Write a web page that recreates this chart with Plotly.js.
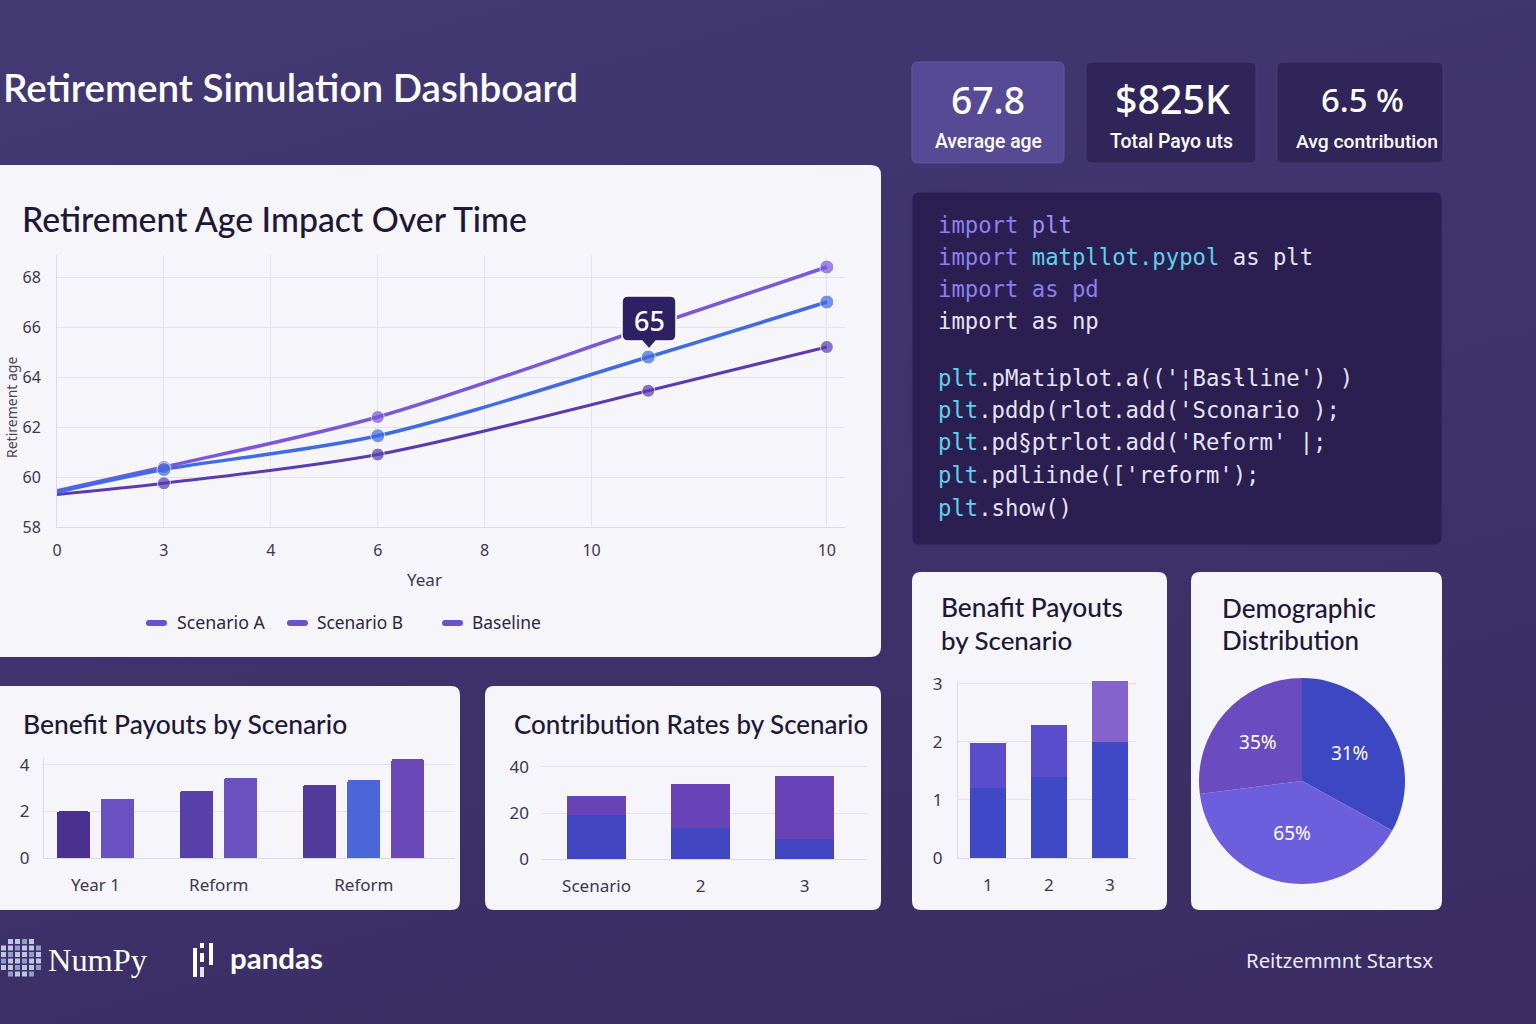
<!DOCTYPE html>
<html><head><meta charset="utf-8">
<script src="https://cdn.plot.ly/plotly-3.0.1.min.js"></script>
<style>
html,body{margin:0;padding:0;width:1536px;height:1024px;overflow:hidden;
background:linear-gradient(165deg,#433a73 0%,#3e336c 45%,#3a2c63 100%);}
#chart{width:1536px;height:1024px;}
</style></head><body><div id="chart"></div><script>
// ---------------- data ----------------
const yearTickLabels = ['0','3','4','6','8','10','10'];
const yearTickPos = [0,1,2,3,4,5,7.2];
const yearPos = [0,1,3,5.53,7.2];
const scenarioA = [59.45,60.4,62.4,66.0,68.4];
const scenarioB = [59.4,60.3,61.65,64.8,67.0];
const baseline = [59.3,59.75,60.9,63.45,65.2];
const ageTicks = [58,60,62,64,66,68];
const calloutValue = '65';

const payoutGroups = ['Year 1','Reform','Reform'];
const payoutValues = [[2.0,2.55],[2.9,3.45],[3.15,3.35,4.25]];
const payoutTicks = [0,2,4];

const contribCategories = ['Scenario','2','3'];
const contribLower = [19.0,13.5,8.7];
const contribUpper = [8.4,19.1,27.4];
const contribTicks = [0,20,40];

const payoutSmallCats = ['1','2','3'];
const payoutSmallLower = [1.2,1.4,2.0];
const payoutSmallUpper = [0.78,0.9,1.05];
const payoutSmallTicks = [0,1,2,3];

const demoShares = [33,40,27];
const demoLabels = ['31%','65%','35%'];

const kpiValues = ['67.8','$825K','6.5 %'];
const kpiLabels = ['Average age','Total Payo uts','Avg contribution'];

const legendNames = ['Scenario A','Scenario B','Baseline'];

// ---------------- styles ----------------
const payoutColors = [['#4a3190','#6a50c0'],['#5840a8','#6b50c0'],['#523a9a','#4a66d8','#6a48b8']];
const groupGap = 1.8;       // slot distance from last bar of a group to first bar of next (style)
const W=1536,H=1024;
const px=x=>x/W, py=y=>1-y/H;
const cv=document.createElement('canvas').getContext('2d');
function fit(text,family,weight,target){cv.font=weight+' 100px '+family;const w=cv.measureText(text).width;return 100*target/w;}
const F_T="Lato, 'Noto Sans', sans-serif";
const F_B="'Noto Sans', 'Open Sans', sans-serif";
const F_M="'DejaVu Sans Mono', 'Liberation Mono', monospace";
const GRID='#e4e2ef', LINE='#dcd9ea', TICK='#3b3654';

function rr(x0,y0,x1,y1,r){
  const X=v=>px(v).toFixed(5),Y=v=>py(v).toFixed(5);
  return `M${X(x0+r)},${Y(y0)} L${X(x1-r)},${Y(y0)} Q${X(x1)},${Y(y0)} ${X(x1)},${Y(y0+r)} L${X(x1)},${Y(y1-r)} Q${X(x1)},${Y(y1)} ${X(x1-r)},${Y(y1)} L${X(x0+r)},${Y(y1)} Q${X(x0)},${Y(y1)} ${X(x0)},${Y(y1-r)} L${X(x0)},${Y(y0+r)} Q${X(x0)},${Y(y0)} ${X(x0+r)},${Y(y0)} Z`;
}
function card(x0,y0,x1,y1,r,fill,line,lw,layer){
  return {type:'path',xref:'paper',yref:'paper',path:rr(x0,y0,x1,y1,r),fillcolor:fill,line:{color:line||fill,width:lw||0},layer:layer||'below'};
}
function txt(text,x,y,size,color,family,weight,anchor,extra){
  return Object.assign({text,x:px(x),y:py(y),xref:'paper',yref:'paper',xanchor:anchor||'left',yanchor:'middle',
    showarrow:false,borderpad:0,font:{family,size,color,weight:weight||400}},extra||{});
}
function fitTxt(text,xl,xr,y,color,family,weight,anchor,extra){
  const s=fit(text,family,weight||400,xr-xl);
  const x=anchor==='center'?(xl+xr)/2:xl;
  return txt(text,x,y,s,color,family,weight,anchor,extra);
}

const shapes=[], ann=[];
// cards
shapes.push(card(-12,165,881,657,10,'#f6f5fa'));
shapes.push(card(-12,686,460,910,9,'#f6f5fa'));
shapes.push(card(485,686,881,910,9,'#f6f5fa'));
shapes.push(card(912,572,1167,910,9,'#f6f5fa'));
shapes.push(card(1191,572,1442,910,9,'#f6f5fa'));
shapes.push(card(912,192,1442,545,8,'#2a1f50','#3b3070',1));
// KPI cards
const kpiBoxes=[[912,1064,'#574a94','#6456a2'],[1086,1256,'#2f2559','#463b78'],[1277,1443,'#2f2559','#463b78']];
kpiBoxes.forEach(b=>shapes.push(card(b[0],62,b[1],163,6,b[2],b[3],1)));

// main title
ann.push(fitTxt('Retirement Simulation Dashboard',2,577,87,'#ffffff',F_T,600));
// KPI texts
const kpiValSpan=[[951,1025],[1115,1230],[1321,1404]];
const kpiLabSpan=[[935,1042],[1110,1233],[1296,1438]];
kpiValues.forEach((v,i)=>ann.push(fitTxt(v,kpiValSpan[i][0],kpiValSpan[i][1],99,'#ffffff',F_B,500,'center')));
kpiLabels.forEach((v,i)=>ann.push(fitTxt(v,kpiLabSpan[i][0],kpiLabSpan[i][1],141,'#ffffff',"Roboto, 'Noto Sans', sans-serif",500,'center')));

// card titles
const DARK='#1d1838';
ann.push(fitTxt('Retirement Age Impact Over Time',21,529,219,DARK,F_T,500));
ann.push(fitTxt('Benefit Payouts by Scenario',22,347,724,DARK,F_T,500));
ann.push(fitTxt('Contribution Rates by Scenario',513,868,724,DARK,F_T,500));
ann.push(fitTxt('Benafit Payouts',940,1122,607,DARK,F_T,500));
ann.push(fitTxt('by Scenario',940,1072,640,DARK,F_T,500));
ann.push(fitTxt('Demographic',1221,1375,608,DARK,F_T,500));
ann.push(fitTxt('Distribution',1221,1358,640,DARK,F_T,500));

// axis titles of line chart
ann.push(txt('Retirement age',11,408,14,'#4a4563',F_B,400,'center',{textangle:-90}));
ann.push(txt('Year',424,579,17,TICK,F_B,400,'center'));

// legend (custom)
const legSw=[146,287,442], legTx=[[176,264],[316,402],[471,540]];
legendNames.forEach((n,i)=>{
  shapes.push(card(legSw[i],620,legSw[i]+21,626,3,'#6a52cf',null,0,'above'));
  ann.push(fitTxt(n,legTx[i][0],legTx[i][1],622,'#2b2742',F_B,400));
});

// callout
(function(){
  const x0=622,y0=296,x1=676,y1=341,r=6,tx=649;
  const X=v=>px(v).toFixed(5),Y=v=>py(v).toFixed(5);
  const p=`M${X(x0+r)},${Y(y0)} L${X(x1-r)},${Y(y0)} Q${X(x1)},${Y(y0)} ${X(x1)},${Y(y0+r)} L${X(x1)},${Y(y1-r)} Q${X(x1)},${Y(y1)} ${X(x1-r)},${Y(y1)} L${X(tx+7)},${Y(y1)} L${X(tx)},${Y(y1+8)} L${X(tx-7)},${Y(y1)} L${X(x0+r)},${Y(y1)} Q${X(x0)},${Y(y1)} ${X(x0)},${Y(y1-r)} L${X(x0)},${Y(y0+r)} Q${X(x0)},${Y(y0)} ${X(x0+r)},${Y(y0)} Z`;
  shapes.push({type:'path',xref:'paper',yref:'paper',path:p,fillcolor:'#2d2164',line:{color:'#ffffff',width:1.5},layer:'above'});
  ann.push(txt(calloutValue,649,320,27,'#ffffff',F_B,500,'center'));
})();

// code block
const cP='#8b80f0', cW='#e8e4f7', cC='#5fd2ea', cL='#9d90f5';
const sp=(c,t)=>`<span style="color:${c}">${t}</span>`;
const codeLines=[
  [225, sp(cP,'import')+' '+sp(cL,'plt')],
  [257, sp(cP,'import')+' '+sp(cC,'matpllot.pypol')+' '+sp(cW,'as plt')],
  [289, sp(cP,'import')+' '+sp(cP,'as pd')],
  [321, sp(cW,'import')+' '+sp(cW,'as np')],
  [378, sp(cC,'plt')+sp(cW,".pMatiplot.a(('\u00a6Bas\u019aline') )")],
  [410, sp(cC,'plt')+sp(cW,".pddp(rlot.add('Sconario );")],
  [442, sp(cC,'plt')+sp(cW,".pd\u00a7ptrlot.add('Reform' |;")],
  [475, sp(cC,'plt')+sp(cW,".pdliinde(['reform');")],
  [508, sp(cC,'plt')+sp(cW,'.show()')]
];
cv.font='100px '+F_M; const cw=cv.measureText('a').width/100;
const codeSize=13.4/cw;
codeLines.forEach(l=>ann.push(txt(l[1],937,l[0],codeSize,cW,F_M,400)));

// footer
ann.push(fitTxt('Reitzemmnt Startsx',1245,1432,960,'#ecebf7',F_B,400));
ann.push(fitTxt('NumPy',47,146,960,'#ffffff',"'Liberation Serif', 'DejaVu Serif', serif",400));
ann.push(fitTxt('pandas',229,322,957,'#ffffff',"Lato, 'Noto Sans', sans-serif",700));
// numpy icon (decorative grid of cubes)
for(let r=0;r<6;r++){for(let c=0;c<6;c++){
  const edge=(r===0&&(c===0||c===5))||(r===5&&(c===0||c===5));
  if(edge) continue;
  const x=1+c*7, y=939+r*6.5;
  shapes.push({type:'rect',xref:'paper',yref:'paper',x0:px(x),x1:px(x+5),y0:py(y),y1:py(y+5),
    fillcolor:(c+r)%3===0?'rgba(150,170,215,0.9)':'rgba(205,215,240,0.9)',line:{width:0},layer:'below'});
}}
// pandas icon
[[193,948,197,977,'#ffffff'],[200,943,204,948,'#ffffff'],[200,953,204,962,'#ffffff'],[200,967,204,977,'#e9dcef'],[209,943,213,965,'#ffffff']]
  .forEach(b=>shapes.push({type:'rect',xref:'paper',yref:'paper',x0:px(b[0]),x1:px(b[2]),y0:py(b[1]),y1:py(b[3]),fillcolor:b[4],line:{width:0},layer:'below'}));

// ---------------- traces ----------------
const traces=[];
function lineTrace(name,y,color,w,msizes){
  return {type:'scatter',mode:'lines+markers',name,x:yearPos,y,xaxis:'x',yaxis:'y',
    line:{color,width:w,shape:'spline',smoothing:0.9},marker:{color,size:msizes},showlegend:false,hoverinfo:'skip'};
}
traces.push(lineTrace('Baseline',baseline,'#5a3cb0',3,[0,13,13,13,13]));
traces.push(lineTrace('Scenario A',scenarioA,'#7a58d8',3.5,[0,13,13,0,14]));
traces.push(lineTrace('Scenario B',scenarioB,'#3f6be3',3.5,[0,14,14,14,14]));

// grouped payout bars: one slot per bar, gap between groups
const pX=[],pY=[],pC=[],gCenters=[];
let slot=0;
payoutValues.forEach((g,gi)=>{
  const start=slot;
  g.forEach((v,i)=>{pX.push(slot);pY.push(v);pC.push(payoutColors[gi][i]);slot+=1;});
  gCenters.push((start+slot-1)/2);
  slot+=groupGap-1;
});
traces.push({type:'bar',x:pX,y:pY,width:0.75,xaxis:'x2',yaxis:'y2',marker:{color:pC,cornerradius:2,line:{width:0}},showlegend:false,hoverinfo:'skip'});

traces.push({type:'bar',x:contribCategories,y:contribLower,width:0.567,xaxis:'x3',yaxis:'y3',marker:{color:'#4245c0',line:{width:0}},showlegend:false,hoverinfo:'skip'});
traces.push({type:'bar',x:contribCategories,y:contribUpper,width:0.567,xaxis:'x3',yaxis:'y3',marker:{color:'#6844b8',line:{width:0}},showlegend:false,hoverinfo:'skip'});

traces.push({type:'bar',x:payoutSmallCats,y:payoutSmallLower,width:0.6,xaxis:'x4',yaxis:'y4',marker:{color:'#3f49c6',line:{width:0}},showlegend:false,hoverinfo:'skip'});
traces.push({type:'bar',x:payoutSmallCats,y:payoutSmallUpper,width:0.6,xaxis:'x4',yaxis:'y4',marker:{color:['#5b4ccc','#5b4ccc','#8464cc'],line:{width:0}},showlegend:false,hoverinfo:'skip'});

traces.push({type:'pie',values:demoShares,text:demoLabels,textinfo:'text',direction:'clockwise',rotation:0,sort:false,
  marker:{colors:['#3d47c2','#6d5edd','#6a4cc0'],line:{width:0}},textfont:{color:'#ffffff',size:19,family:F_B},
  insidetextorientation:'horizontal',domain:{x:[px(1199),px(1405)],y:[py(884),py(678)]},showlegend:false,hoverinfo:'skip'});

// ---------------- layout ----------------
const tf=(s)=>({family:F_B,size:s,color:TICK});
const layout={
  width:W,height:H,margin:{l:0,r:0,t:0,b:0},paper_bgcolor:'rgba(0,0,0,0)',plot_bgcolor:'rgba(0,0,0,0)',
  barmode:'stack',showlegend:false,
  xaxis:{domain:[px(57),px(845)],range:[0,7.37],tickmode:'array',tickvals:yearTickPos,ticktext:yearTickLabels,
    showgrid:true,gridcolor:GRID,zeroline:false,showline:true,linecolor:LINE,ticks:'',tickfont:tf(16),ticklabelstandoff:9,
    automargin:false,anchor:'y',fixedrange:true},
  yaxis:{domain:[py(527),py(255)],range:[58,68.88],tickmode:'array',tickvals:ageTicks,showgrid:true,gridcolor:GRID,
    zeroline:false,showline:true,linecolor:LINE,ticks:'',tickfont:tf(16),ticklabelstandoff:12,automargin:false,anchor:'x'},
  xaxis2:{domain:[px(44),px(455)],range:[-0.67,8.67],tickmode:'array',tickvals:gCenters,ticktext:payoutGroups,
    showgrid:false,zeroline:false,showline:true,linecolor:LINE,ticks:'',tickfont:tf(17),ticklabelstandoff:12,automargin:false,anchor:'y2'},
  yaxis2:{domain:[py(858),py(758)],range:[0,4.3],tickmode:'array',tickvals:payoutTicks,showgrid:true,gridcolor:GRID,
    zeroline:false,showline:true,linecolor:LINE,ticks:'',tickfont:tf(17),ticklabelstandoff:10,automargin:false,anchor:'x2'},
  xaxis3:{domain:[px(542),px(867)],type:'category',range:[-0.524,2.6],showgrid:false,zeroline:false,showline:true,linecolor:LINE,
    ticks:'',tickfont:tf(17),ticklabelstandoff:12,automargin:false,anchor:'y3'},
  yaxis3:{domain:[py(859),py(764)],range:[0,41.3],tickmode:'array',tickvals:contribTicks,showgrid:true,gridcolor:GRID,
    zeroline:false,showline:false,ticks:'',tickfont:tf(17),ticklabelstandoff:12,automargin:false,anchor:'x3'},
  xaxis4:{domain:[px(958),px(1136)],type:'category',range:[-0.49,2.43],showgrid:false,zeroline:false,showline:true,linecolor:LINE,
    ticks:'',tickfont:tf(17),ticklabelstandoff:12,automargin:false,anchor:'y4'},
  yaxis4:{domain:[py(858),py(681)],range:[0,3.05],tickmode:'array',tickvals:payoutSmallTicks,showgrid:true,gridcolor:GRID,
    zeroline:false,showline:true,linecolor:LINE,ticks:'',tickfont:tf(17),ticklabelstandoff:11,automargin:false,anchor:'x4'},
  shapes,annotations:ann
};
Plotly.newPlot('chart',traces,layout,{staticPlot:true,displayModeBar:false});
</script></body></html>
